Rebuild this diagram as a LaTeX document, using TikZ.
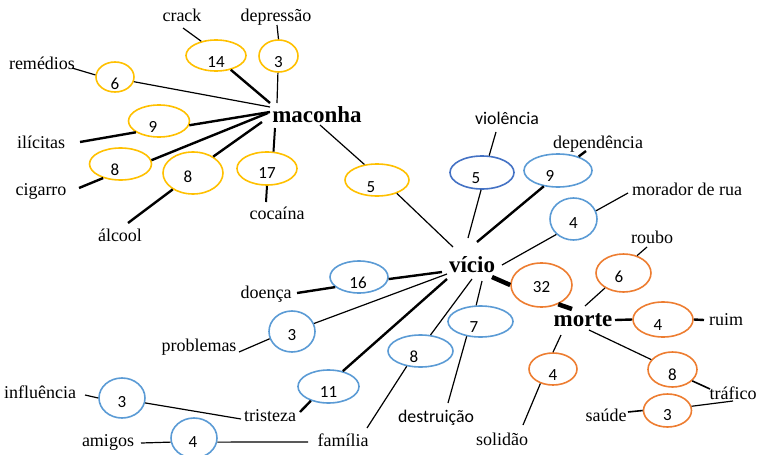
\documentclass[tikz,border=0pt]{standalone}
\usepackage{fontspec}
\setmainfont{Liberation Serif}
\newfontfamily\numfont{Carlito}
\usetikzlibrary{shapes.geometric}
\definecolor{yel}{HTML}{FFC000}
\definecolor{lbl}{HTML}{5B9BD5}
\definecolor{dbl}{HTML}{4472C4}
\definecolor{org}{HTML}{ED7D31}
\newcommand\nm[3]{\raisebox{\dimexpr-#2pt-5.4pt\relax}[0pt][0pt]{\kern#1pt #3\kern-#1pt}}
\tikzset{
  ell/.style={ellipse, draw=#1, line width=1.6pt, inner sep=0pt, font=\numfont\fontsize{17}{20}\selectfont},
  lab/.style={inner sep=0pt, text height=14pt, text depth=1pt, font=\fontsize{18}{20}\selectfont},
  slab/.style={inner sep=0pt, text height=14pt, text depth=1pt, font=\numfont\fontsize{17.8}{20}\selectfont},
  hub/.style={inner sep=0pt, font=\bfseries\fontsize{23}{26}\selectfont},
  thin/.style={line width=1.2pt},
  thick2/.style={line width=2.4pt},
  vthick/.style={line width=4.5pt},
}
\begin{document}
\begin{tikzpicture}[x=1pt,y=-1pt]
\useasboundingbox (0,0) rectangle (758,455);
% hubs
\node[hub] (mac) at (317,115) {maconha};
\node[hub] (vic) at (472,265) {vício};
\node[hub] (mor) at (583,320) {morte};
% labels
\node[lab] (crack) at (182,15) {crack};
\node[lab] (depr) at (276,15) {depressão};
\node[lab] (rem) at (42,63) {remédios};
\node[lab] (ili) at (41,142) {ilícitas};
\node[lab] (cig) at (41,189) {cigarro};
\node[lab] (alc) at (120,235) {álcool};
\node[lab] (coc) at (277,213) {cocaína};
\node[slab] (vio) at (507,118) {violência};
\node[lab] (dep) at (598,142) {dependência};
\node[lab] (mdr) at (687,189) {morador de rua};
\node[lab] (rou) at (652,237) {roubo};
\node[lab] (rui) at (726,319) {ruim};
\node[lab] (tra) at (733,393) {tráfico};
\node[lab] (sau) at (606,415) {saúde};
\node[lab] (sol) at (502,439) {solidão};
\node[slab] (des) at (436,416) {destruição};
\node[lab] (fam) at (343,440) {família};
\node[lab] (ami) at (108,440) {amigos};
\node[lab] (inf) at (40,392) {influência};
\node[lab] (tri) at (270,415) {tristeza};
\node[lab] (pro) at (199,345) {problemas};
\node[lab] (doe) at (266,292) {doença};
% yellow ellipses
\node[ell=yel, minimum width=60pt, minimum height=31pt] (y14) at (216,55.5) {\nm{0}{7}{14}};
\node[ell=yel, minimum width=39pt, minimum height=32pt] (y3) at (278.5,56) {\nm{0}{6.5}{3}};
\node[ell=yel, minimum width=38pt, minimum height=30pt] (y6) at (115,77) {\nm{0}{7}{6}};
\node[ell=yel, minimum width=61pt, minimum height=32pt] (y9) at (159,121) {\nm{-6}{6}{9}};
\node[ell=yel, minimum width=62pt, minimum height=32pt] (y8a) at (120.5,164) {\nm{-5.5}{6}{8}};
\node[ell=yel, minimum width=60pt, minimum height=42pt] (y8b) at (193,173) {\nm{-5}{4}{8}};
\node[ell=yel, minimum width=60pt, minimum height=33pt] (y17) at (267,168.5) {\nm{0}{4.5}{17}};
\node[ell=yel, minimum width=64pt, minimum height=32pt] (y5) at (377,180) {\nm{-6}{7}{5}};
% blue ellipses
\node[ell=dbl, minimum width=64pt, minimum height=33pt] (d5) at (482,172.5) {\nm{-6}{5.5}{5}};
\node[ell=lbl, minimum width=68pt, minimum height=33pt] (b9) at (558,170.5) {\nm{-8}{5.5}{9}};
\node[ell=lbl, minimum width=47pt, minimum height=42pt] (b4m) at (573.5,219) {\nm{0}{4}{4}};
\node[ell=lbl, minimum width=58pt, minimum height=32pt] (b16) at (359,277) {\nm{-1}{6}{16}};
\node[ell=lbl, minimum width=46pt, minimum height=41pt] (b3p) at (292,331.5) {\nm{0}{3.5}{3}};
\node[ell=lbl, minimum width=61pt, minimum height=33pt] (b11) at (328.5,386.5) {\nm{0}{5.5}{11}};
\node[ell=lbl, minimum width=46pt, minimum height=40pt] (b3i) at (122,398) {\nm{0}{4}{3}};
\node[ell=lbl, minimum width=46pt, minimum height=40pt] (b4a) at (194,438) {\nm{-1}{4}{4}};
\node[ell=lbl, minimum width=65pt, minimum height=32pt] (b8) at (420.5,351) {\nm{-6.5}{6}{8}};
\node[ell=lbl, minimum width=65pt, minimum height=31pt] (b7) at (480.5,321.5) {\nm{-6.5}{5.5}{7}};
% orange ellipses
\node[ell=org, minimum width=61pt, minimum height=44pt] (o32) at (541.5,285) {\nm{0}{2}{32}};
\node[ell=org, minimum width=55pt, minimum height=38pt] (o6) at (623.5,273) {\nm{-4.5}{4}{6}};
\node[ell=org, minimum width=60pt, minimum height=35pt] (o4r) at (663,319.5) {\nm{-5}{5.5}{4}};
\node[ell=org, minimum width=49pt, minimum height=35pt] (o8) at (672.5,369.5) {\nm{0}{5.5}{8}};
\node[ell=org, minimum width=48pt, minimum height=33pt] (o3) at (667.5,410.5) {\nm{0}{4.5}{3}};
\node[ell=org, minimum width=48pt, minimum height=32pt] (o4s) at (553,369) {\nm{0}{6}{4}};
% connectors: maconha cluster
\draw[thin] ([shift={(1,13)}]crack.center) -- (y14.136);
\draw[thick2] (y14.-44) -- ([shift={(-47,-12)}]mac.center);
\draw[thin] ([shift={(1,10)}]depr.center) -- (y3.90);
\draw[thin] (y3.-92) -- ([shift={(-40,-12)}]mac.center);
\draw[thin] ([shift={(30,5)}]rem.center) -- (y6.174);
\draw[thin] (y6.-14) -- ([shift={(-47,-8)}]mac.center);
\draw[thick2] (y9.-8) -- ([shift={(-47,-3)}]mac.center);
\draw[thick2] ([shift={(39,0)}]ili.center) -- (y9.206);
\draw[thick2] (y8a.7) -- ([shift={(-49,-2)}]mac.center);
\draw[thick2] ([shift={(38,-1)}]cig.center) -- (y8a.219);
\draw[thick2] (y8b.39) -- ([shift={(-55,7)}]mac.center);
\draw[thick2] ([shift={(8,-12)}]alc.center) -- (y8b.219);
\draw[line width=2pt] (y17.69) -- ([shift={(-42,13)}]mac.center);
\draw[line width=2pt] (y17.-90) -- ([shift={(-11,-11)}]coc.center);
\draw[thin] ([shift={(3,10)}]mac.center) -- (y5.129);
\draw[thin] (y5.-34) -- ([shift={(-19,-18)}]vic.center);
% vicio cluster
\draw[thin] ([shift={(-11,14)}]vio.center) -- (d5.67);
\draw[thin] (d5.-93) -- ([shift={(-4,-27)}]vic.center);
\draw[thick2] ([shift={(-12,9)}]dep.center) -- (b9.34);
\draw[thick2] (b9.-132) -- ([shift={(5,-23)}]vic.center);
\draw[thin] ([shift={(-59,4)}]mdr.center) -- (b4m.20);
\draw[thin] (b4m.-138) -- ([shift={(30,0)}]vic.center);
\draw[vthick] ([shift={(20,12)}]vic.center) -- (o32.180);
\draw[vthick] (o32.-49) -- ([shift={(-11,-11)}]mor.center);
\draw[thin] ([shift={(10,16)}]vic.center) -- (b7.105);
\draw[thin] (b7.-133) -- ([shift={(12,-13)}]des.center);
\draw[thin] ([shift={(0,14)}]vic.center) -- (b8.58);
\draw[thin] (b8.-132) -- ([shift={(24,-12)}]fam.center);
\draw[thick2] (b16.-4) -- ([shift={(-30,7)}]vic.center);
\draw[thick2] ([shift={(31,1)}]doe.center) -- (b16.203);
\draw[thin] (b3p.20) -- ([shift={(-25,9)}]vic.center);
\draw[thin] ([shift={(40,7)}]pro.center) -- (b3p.198);
\draw[thick2] ([shift={(-25,14)}]vic.center) -- (b11.47);
\draw[thick2] (b11.219) -- ([shift={(30,-3)}]tri.center);
\draw[thin] ([shift={(45,3)}]inf.center) -- (b3i.180);
\draw[thin] (b3i.-12) -- ([shift={(-29,4)}]tri.center);
\draw[thin] ([shift={(33,3)}]ami.center) -- (b4a.190);
\draw[thin] (b4a.-10) -- ([shift={(-35,2)}]fam.center);
% morte cluster
\draw[thin] ([shift={(-5,10)}]rou.center) -- (o6.52);
\draw[thin] ([shift={(2,-14)}]mor.center) -- (o6.219);
\draw[thick2] ([shift={(32,0)}]mor.center) -- (o4r.180);
\draw[thick2] (o4r.0) -- ([shift={(-22,1)}]rui.center);
\draw[thin] ([shift={(6,10)}]mor.center) -- (o8.155);
\draw[line width=1.6pt] (o8.-30) -- ([shift={(-23,-4)}]tra.center);
\draw[thin] (o3.10) -- ([shift={(0,8)}]tra.center);
\draw[line width=1.6pt] ([shift={(22,-3)}]sau.center) -- (o3.180);
\draw[thin] ([shift={(-22,15)}]mor.center) -- (o4s.90);
\draw[thin] (o4s.-131) -- ([shift={(21,-14)}]sol.center);
\end{tikzpicture}
\end{document}
